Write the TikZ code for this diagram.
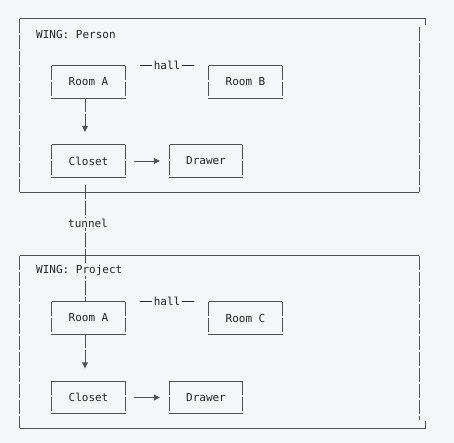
\documentclass[tikz,border=0pt]{standalone}
\usepackage{fontspec}
\newfontfamily\mono{DejaVu Sans Mono}
\usetikzlibrary{arrows.meta}
\definecolor{paper}{RGB}{245,246,248}
\definecolor{wire}{RGB}{80,80,80}
\definecolor{ink}{RGB}{35,35,35}

\begin{document}
\begin{tikzpicture}[x=1pt,y=-1pt,
  every node/.style={font=\mono\fontsize{11}{13}\selectfont,text=ink,inner sep=1pt},
  room/.style={minimum width=73pt,minimum height=32pt,inner sep=0pt},
  wing/.style={minimum width=399pt,inner sep=0pt},
  flat/.style={draw=wire,line width=0.9pt},
  side/.style={draw=wire,line width=0.9pt,dash pattern=on 14pt off 2pt},
  dashbar/.style={draw=ink,line width=0.8pt},
  tip/.style={-{Triangle[length=6pt,width=6pt]}}]
\fill[paper] (0,0) rectangle (454,443);
\useasboundingbox (0,0) rectangle (454,443);

% wing frames
\node[wing,minimum height=173pt] (w1) at (219.5,105.5) {};
\node[wing,minimum height=172pt] (w2) at (219.5,342) {};

% rooms, upper wing
\node[room] (ra1) at (88.5,82) {Room A};
\node[room] (rb)  at (245.5,82) {Room B};
\node[room] (cl1) at (88.5,161) {Closet};
\node[room,minimum width=72pt] (dr1) at (206,161) {Drawer};
\node[inner sep=1.5pt] (hall1) at (167,65) {hall};

% rooms, lower wing
\node[room] (ra2) at (88.5,318) {Room A};
\node[room] (rc)  at (245.5,318) {Room C};
\node[room] (cl2) at (88.5,397.5) {Closet};
\node[room,minimum width=72pt] (dr2) at (206,397.5) {Drawer};
\node[inner sep=1.5pt] (hall2) at (167,301) {hall};

% box edges: solid rows, broken columns
\foreach \r in {ra1,rb,cl1,dr1,ra2,rc,cl2,dr2}{
  \draw[flat] (\r.north west) -- (\r.north east) (\r.south west) -- (\r.south east);
  \draw[side] (\r.north west) -- (\r.south west) (\r.north east) -- (\r.south east);
}
\foreach \h in {hall1,hall2}{
  \draw[dashbar] ([yshift=-0.5pt]\h.west) -- ++(-12,0);
  \draw[dashbar] ([yshift=-0.5pt]\h.east) -- ++(12,0);
}
\draw[flat] (w1.north west) -- ++(406,0) -- ++(0,6);
\draw[flat] (w1.south west) -- (w1.south east);
\draw[side] (w1.north west) -- (w1.south west);
\draw[side] ([yshift=-8pt]w1.north east) -- (w1.south east);
\draw[flat] (w2.north west) -- (w2.north east);
\draw[flat] (w2.south west) -- ++(406,0) -- ++(0,-7);
\draw[side] (w2.north west) -- (w2.south west);
\draw[side] (w2.north east) -- ([yshift=8pt]w2.south east);

% links
\draw[side,tip,shorten >=13pt] ([xshift=-3.5pt]ra1.south) -- ([xshift=-3.5pt]cl1.north);
\draw[side,tip,shorten >=13pt] ([xshift=-3.5pt]ra2.south) -- ([xshift=-3.5pt]cl2.north);
\draw[flat,tip,shorten <=9pt,shorten >=10pt] (cl1.east) -- (dr1.west);
\draw[flat,tip,shorten <=9pt,shorten >=10pt] (cl2.east) -- (dr2.west);
\draw[side,shorten <=8pt] ([xshift=-3.5pt]cl1.south) -- ([xshift=-3.5pt]ra2.north);
\node[fill=paper] (tunnel) at (88,223) {tunnel};

% wing titles
\node[anchor=west] (w1title) at (35,34) {WING: Person};
\node[anchor=west,fill=paper] (w2title) at (35,270) {WING: Project};
\end{tikzpicture}
\end{document}
